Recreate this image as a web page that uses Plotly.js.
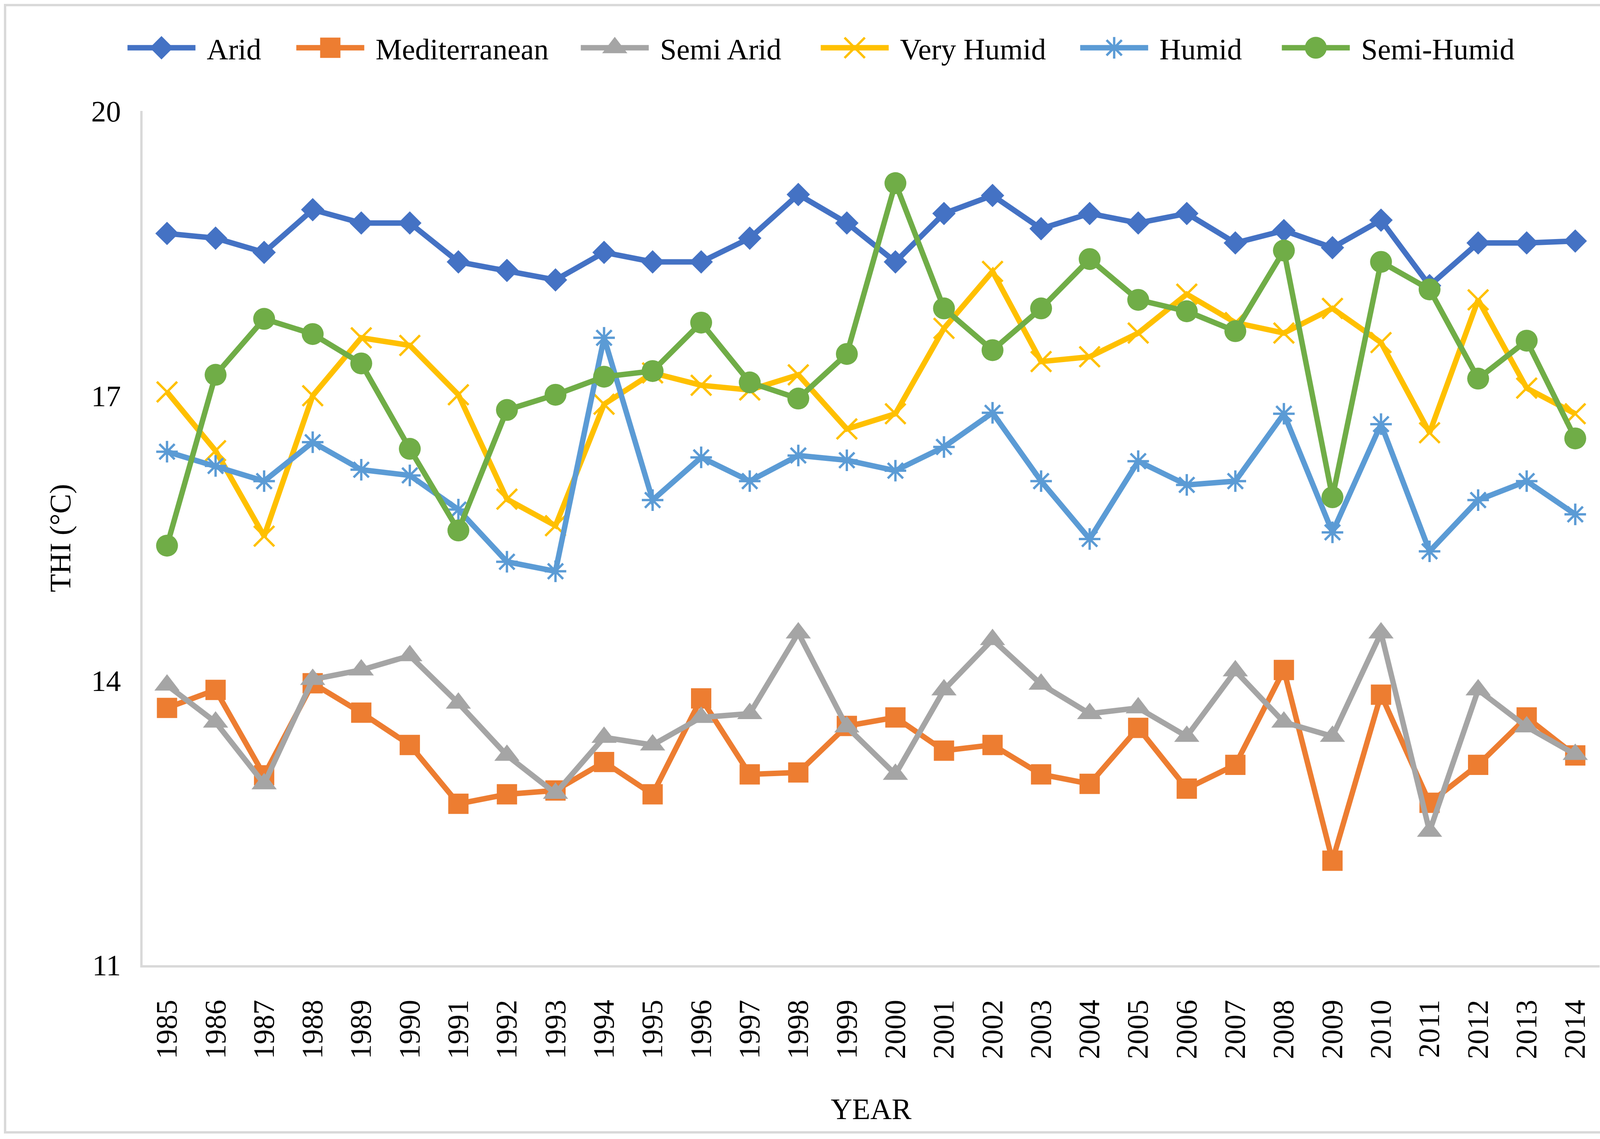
<!DOCTYPE html>
<html>
<head>
<meta charset="utf-8">
<script src="https://cdn.plot.ly/plotly-3.0.1.min.js"></script>
<style>
  html, body { margin: 0; padding: 0; background: #fff; overflow: hidden; }
  #wrap { position: relative; width: 4201px; height: 2916px; overflow: hidden; }
  #chart { position: absolute; left: 0; top: 0; transform-origin: 0 0; }
  #frame { position: absolute; left: 10px; top: 10px; width: 4170px; height: 2880px;
           border: 6px solid #d9d9d9; pointer-events: none; }
</style>
</head>
<body>
<div id="wrap"><div id="chart"></div><div id="frame"></div></div>
<script>
const years = ["1985","1986","1987","1988","1989","1990","1991","1992","1993","1994",
               "1995","1996","1997","1998","1999","2000","2001","2002","2003","2004",
               "2005","2006","2007","2008","2009","2010","2011","2012","2013","2014"];

const arid = [18.71,18.66,18.51,18.96,18.82,18.82,18.41,18.32,18.22,18.51,
              18.41,18.41,18.66,19.12,18.82,18.41,18.92,19.11,18.76,18.92,
              18.82,18.92,18.61,18.74,18.56,18.85,18.16,18.61,18.61,18.63];

const mediterranean = [13.71,13.90,13.00,13.97,13.66,13.32,12.70,12.80,12.84,13.14,
                       12.80,13.81,13.01,13.03,13.52,13.61,13.26,13.32,13.01,12.91,
                       13.50,12.86,13.11,14.11,12.10,13.85,12.71,13.11,13.61,13.21];

const semiArid = [13.95,13.56,12.91,14.01,14.11,14.26,13.76,13.21,12.81,13.40,
                  13.32,13.61,13.65,14.50,13.51,13.01,13.90,14.43,13.96,13.65,
                  13.71,13.41,14.10,13.56,13.41,14.50,12.41,13.90,13.51,13.22];

const veryHumid = [17.04,16.42,15.52,17.00,17.61,17.53,17.01,15.91,15.63,16.91,
                   17.24,17.11,17.06,17.22,16.65,16.81,17.71,18.31,17.36,17.41,
                   17.66,18.07,17.77,17.66,17.92,17.56,16.61,18.01,17.08,16.81];

const humid = [16.41,16.26,16.10,16.51,16.22,16.16,15.80,15.25,15.15,17.61,
               15.90,16.35,16.10,16.37,16.32,16.21,16.46,16.82,16.10,15.49,
               16.31,16.06,16.10,16.81,15.56,16.70,15.36,15.90,16.10,15.75];

const semiHumid = [15.42,17.22,17.81,17.65,17.34,16.44,15.58,16.85,17.01,17.20,
                   17.26,17.77,17.14,16.97,17.44,19.24,17.92,17.48,17.92,18.44,
                   18.01,17.89,17.68,18.53,15.93,18.41,18.12,17.18,17.58,16.55];

const yTicks = [11, 14, 17, 20];

// The chart is laid out at 1/K size and scaled up by K so that legend symbols keep their proportion.
const K = 5.8;
const W = 4201, H = 2916;
const ML = 368, MR = 105, MT = 286, MB = 445;
const FONT = "Liberation Serif, Times New Roman, serif";
const FS = 76 / K;

const chartDiv = document.getElementById("chart");
chartDiv.style.width = (W / K) + "px";
chartDiv.style.height = (H / K) + "px";
chartDiv.style.transform = "scale(" + K + ")";

function trace(name, y, color, symbol, size, openSym, legendId) {
  return {
    type: "scatter", mode: "lines+markers", name: name, x: years, y: y,
    legend: legendId,
    line: { color: color, width: 14 / K },
    marker: {
      symbol: symbol, size: size / K, color: color,
      line: { width: openSym ? 6 / K : 0, color: color }
    }
  };
}

const data = [
  trace("Arid", arid, "#4472C4", "diamond", 46, false, "legend"),
  trace("Mediterranean", mediterranean, "#ED7D31", "square", 52, false, "legend2"),
  trace("Semi Arid", semiArid, "#A5A5A5", "triangle-up", 56, false, "legend3"),
  trace("Very Humid", veryHumid, "#FFC000", "x-thin-open", 52, true, "legend4"),
  trace("Humid", humid, "#5B9BD5", "asterisk-open", 46, true, "legend5"),
  trace("Semi-Humid", semiHumid, "#70AD47", "circle", 56, false, "legend6")
];

// legend text start positions (px in the full-size picture)
const legendTextStart = [534, 966, 1694, 2308, 2972, 3488];
const plotW = W - ML - MR, plotH = H - MT - MB;
const legendY = (H - MB - 127) / plotH;

function legendAt(textStartPx) {
  const left = textStartPx - 45 * K + 27;
  return {
    orientation: "h", x: (left - ML) / plotW, xanchor: "left", y: legendY, yanchor: "middle",
    font: { family: FONT, size: FS, color: "#000000" },
    itemsizing: "trace", bgcolor: "rgba(0,0,0,0)"
  };
}

const layout = {
  width: W / K, height: H / K,
  margin: { l: ML / K, r: MR / K, t: MT / K, b: MB / K, pad: 0, autoexpand: false },
  paper_bgcolor: "#ffffff", plot_bgcolor: "#ffffff",
  font: { family: FONT, size: FS, color: "#000000" },
  showlegend: true,
  legend: legendAt(legendTextStart[0]),
  legend2: legendAt(legendTextStart[1]),
  legend3: legendAt(legendTextStart[2]),
  legend4: legendAt(legendTextStart[3]),
  legend5: legendAt(legendTextStart[4]),
  legend6: legendAt(legendTextStart[5]),
  xaxis: {
    type: "category", range: [-0.5, 29.5],
    showgrid: false, zeroline: false,
    showline: true, linecolor: "#d9d9d9", linewidth: 6 / K,
    ticks: "", tickangle: -90, ticklabelstandoff: 9,
    tickfont: { family: FONT, size: FS, color: "#000000" },
    title: { text: "YEAR", font: { family: FONT, size: FS, color: "#000000" }, standoff: 104 / K },
    fixedrange: true
  },
  yaxis: {
    range: [11, 20], tickmode: "array", tickvals: yTicks, ticktext: yTicks.map(String),
    showgrid: false, zeroline: false,
    showline: true, linecolor: "#d9d9d9", linewidth: 6 / K,
    ticks: "", ticklabelstandoff: 6,
    tickfont: { family: FONT, size: FS, color: "#000000" },
    title: { text: "THI (°C)", font: { family: FONT, size: FS, color: "#000000" }, standoff: 30 / K },
    fixedrange: true
  }
};

Plotly.newPlot("chart", data, layout, { staticPlot: true, displayModeBar: false });
</script>
</body>
</html>
